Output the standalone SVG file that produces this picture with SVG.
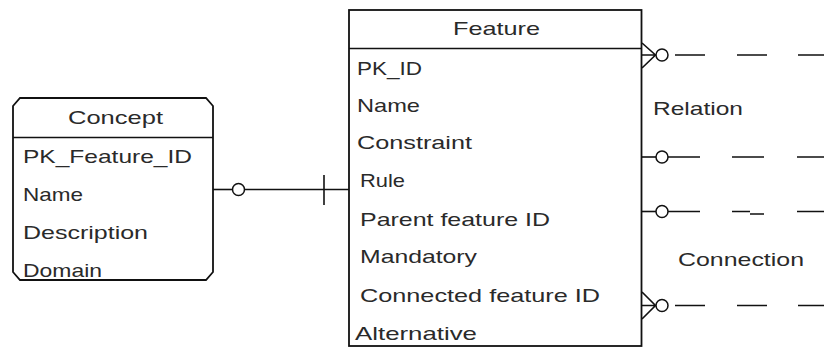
<svg xmlns="http://www.w3.org/2000/svg" width="824" height="349" viewBox="0 0 824 349">
<style>
.box{fill:#fff;stroke:#111;stroke-width:1.8}
.ln{fill:none;stroke:#111;stroke-width:1.6}
.c{fill:#fff;stroke:#111;stroke-width:1.5}
text{font-family:"Liberation Sans",Arial,sans-serif;font-size:19px;fill:#2a2a2a}
</style>
<rect width="824" height="349" fill="#fff"/>
<g id="connectors">
  <line class="ln" x1="213" y1="189.5" x2="232" y2="189.5"/>
  <circle class="c" cx="238.5" cy="189.5" r="6"/>
  <line class="ln" x1="245" y1="189.5" x2="349" y2="189.5"/>
  <line class="ln" x1="324" y1="175" x2="324" y2="205"/>
  <path class="ln" d="M642 43 L655.5 55 L642 68 M642 55 H656"/>
  <circle class="c" cx="662" cy="55" r="6"/>
  <path class="ln" d="M675 55 H705 M737 55 H767 M798 55 H824"/>
  <path class="ln" d="M642 157 H656"/>
  <circle class="c" cx="662" cy="157" r="6"/>
  <path class="ln" d="M668 157 H700 M732 157 H764 M797 157 H824"/>
  <path class="ln" d="M642 211.5 H656"/>
  <circle class="c" cx="662" cy="211.5" r="6"/>
  <path class="ln" d="M668 211.5 H700 M732 211.5 H750 M750 214 H764 M797 211.5 H824"/>
  <path class="ln" d="M642 292 L655.5 305.5 L642 319 M642 305.5 H656"/>
  <circle class="c" cx="662" cy="305.5" r="6"/>
  <path class="ln" d="M675 305.5 H705 M737 305.5 H767 M798 305.5 H824"/>
  <text x="653" y="115" textLength="90" lengthAdjust="spacingAndGlyphs">Relation</text>
  <text x="678" y="266" textLength="126" lengthAdjust="spacingAndGlyphs">Connection</text>
</g>
<g id="concept">
  <path class="box" d="M20 98 H206 L213 106 V272 L206 280 H20 L13 272 V106 Z"/>
  <line class="ln" x1="13" y1="137.5" x2="213" y2="137.5"/>
  <text x="68" y="124" textLength="95" lengthAdjust="spacingAndGlyphs">Concept</text>
  <text x="23" y="163" textLength="169" lengthAdjust="spacingAndGlyphs">PK_Feature_ID</text>
  <text x="23" y="201" textLength="60" lengthAdjust="spacingAndGlyphs">Name</text>
  <text x="23" y="239" textLength="125" lengthAdjust="spacingAndGlyphs">Description</text>
  <text x="23" y="277" textLength="79" lengthAdjust="spacingAndGlyphs">Domain</text>
</g>
<g id="feature">
  <rect class="box" x="349" y="10" width="292.5" height="336"/>
  <line class="ln" x1="349" y1="48.5" x2="641.5" y2="48.5"/>
  <text x="453" y="35" textLength="87" lengthAdjust="spacingAndGlyphs">Feature</text>
  <text x="357" y="75" textLength="65" lengthAdjust="spacingAndGlyphs">PK_ID</text>
  <text x="357" y="112" textLength="63" lengthAdjust="spacingAndGlyphs">Name</text>
  <text x="357" y="149" textLength="115" lengthAdjust="spacingAndGlyphs">Constraint</text>
  <text x="360" y="187" textLength="45" lengthAdjust="spacingAndGlyphs">Rule</text>
  <text x="360" y="226" textLength="190" lengthAdjust="spacingAndGlyphs">Parent feature ID</text>
  <text x="360" y="263" textLength="117" lengthAdjust="spacingAndGlyphs">Mandatory</text>
  <text x="360" y="302" textLength="240" lengthAdjust="spacingAndGlyphs">Connected feature ID</text>
  <text x="355" y="340" textLength="122" lengthAdjust="spacingAndGlyphs">Alternative</text>
</g>
</svg>
